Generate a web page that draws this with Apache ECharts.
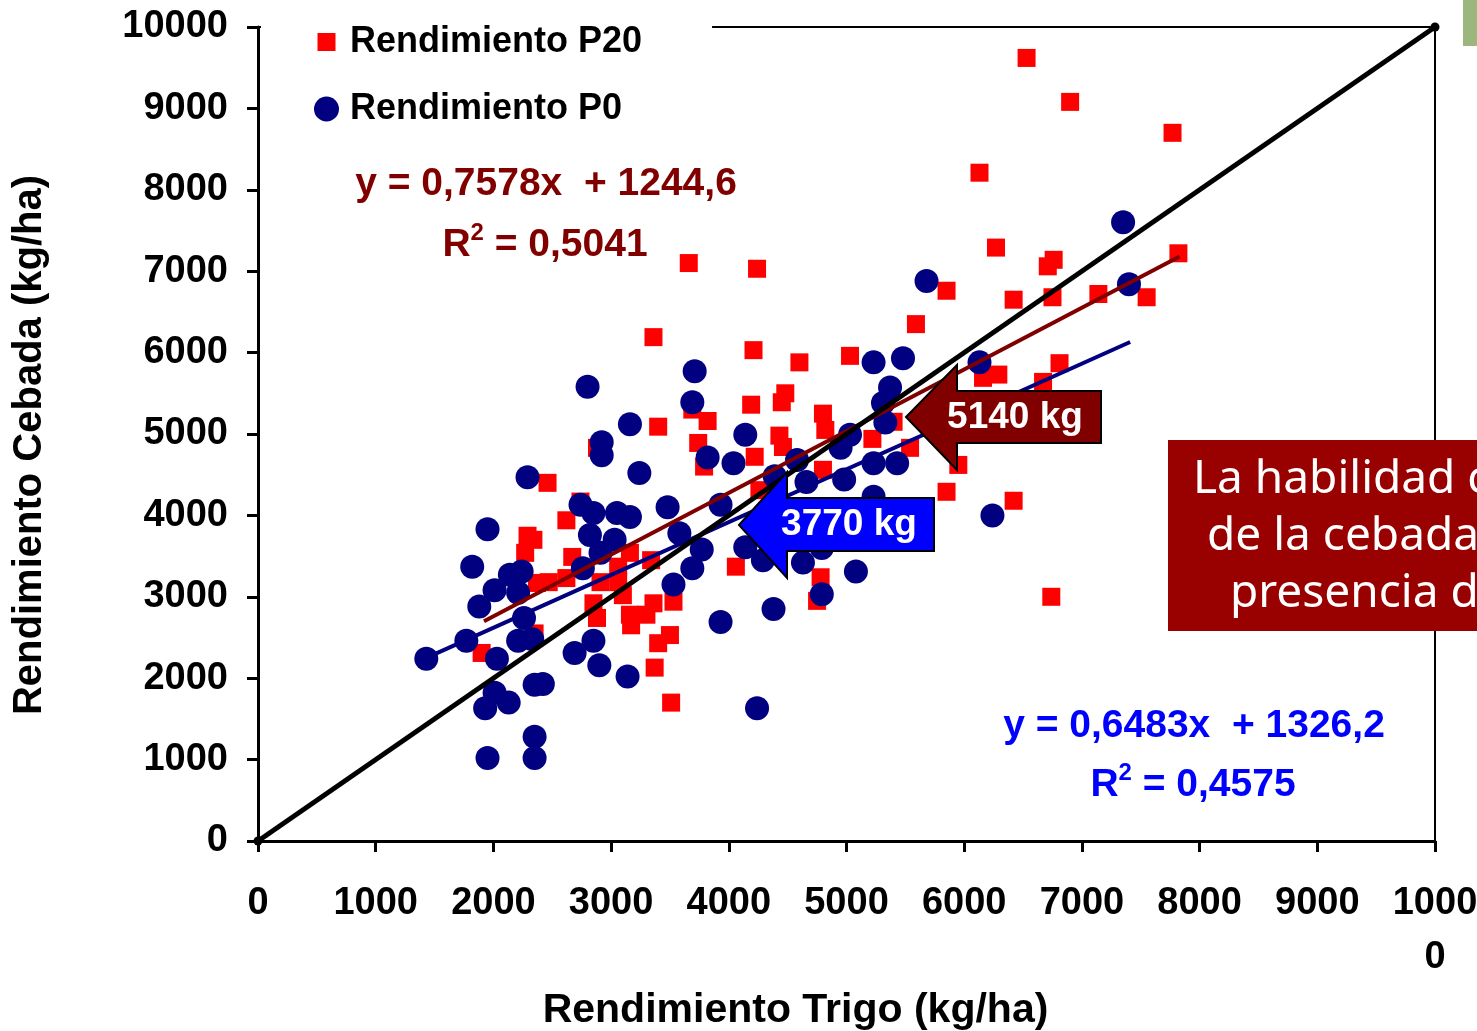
<!DOCTYPE html>
<html>
<head>
<meta charset="utf-8">
<script src="https://cdn.jsdelivr.net/npm/echarts@6/dist/echarts.min.js"></script>
<style>
html,body{margin:0;padding:0;background:#fff;}
#c{width:1477px;height:1031px;}
</style>
</head>
<body>
<div id="c"></div>
<script>
// ---- data ----
const p20X = [6530,6900,7770,6130,6270,3660,4240,6760,6710,7820,5850,6420,6750,7140,7550,5590,3360,4210,4600,5030,6810,6290,6160,6670,4480,4450,4190,3690,3820,3400,4800,4820,3740,4430,4460,5400,5220,5540,4220,5950,3790,4800,2460,5850,6420,4260,2740,2880,2620,2290,2340,2270,2670,3160,4060,2470,2620,2370,2910,3060,3060,3100,2850,2880,3360,3160,3530,3300,3170,3500,3400,3370,3510,1900,2350,4780,4750,6740,3340];
const p20Y = [9620,9080,8700,8210,7290,7100,7030,7140,7060,7220,6760,6650,6680,6720,6680,6350,6190,6030,5880,5960,5870,5730,5690,5640,5500,5390,5360,5300,5160,5090,5250,5050,4890,4980,4840,5150,4940,4830,4720,4620,4600,4560,4400,4290,4180,4310,4170,4830,3940,3750,3700,3540,3490,3540,3370,3180,3230,3170,3180,3370,3180,3020,2920,2740,2920,2780,2940,2780,2650,2530,2430,2130,1700,2310,2550,3240,2950,3000,3450];
const p0X = [7350,7400,5680,6130,5230,5480,3710,2800,3690,5370,5310,5330,3160,4140,2920,2920,5030,4950,3240,3820,4040,4580,5230,5430,2290,4390,4660,4980,5230,2740,2850,3050,3160,3480,3930,6240,1950,2820,3030,3580,3770,4140,4290,2910,3690,2760,1820,2140,2240,2010,2210,3530,1880,3930,4380,2260,1430,1770,2030,2210,2330,2690,2850,2900,3140,2010,1930,2130,2350,2420,2350,2350,1950,4240,4790,4630,5080,4790];
const p0Y = [7600,6840,6880,5880,5880,5930,5770,5580,5390,5570,5380,5140,5120,4990,4900,4740,4990,4830,4520,4710,4640,4680,4640,4640,4470,4480,4410,4440,4230,4130,4030,4030,3980,4100,4130,4000,3830,3760,3700,3780,3580,3610,3450,3540,3350,3350,3370,3270,3310,3080,3050,3150,2880,2690,2850,2740,2240,2460,2240,2460,2480,2310,2460,2160,2020,1820,1630,1700,1920,1930,1280,1020,1020,1630,3030,3420,3310,3600];
// trend lines (endpoints of the fitted lines shown on the chart)
const p20TrendX = [1920, 7830];
const p20TrendY = [2700, 7180];
const p0TrendX = [1430, 7410];
const p0TrendY = [2250, 6130];
const refLineX = [0, 10000];
const refLineY = [0, 10000];
const axisTicks = [0,1000,2000,3000,4000,5000,6000,7000,8000,9000,10000];
const seriesNames = ['Rendimiento P20', 'Rendimiento P0'];

const zip = (a, b) => a.map((v, i) => [v, b[i]]);
const FONT = "'Liberation Sans', Arial, sans-serif";

const chart = echarts.init(document.getElementById('c'), null, {renderer: 'canvas'});
chart.setOption({
  animation: false,
  backgroundColor: '#fff',
  grid: {left: 258, right: 42, top: 27, bottom: 190, show: true, borderColor: '#000', borderWidth: 2,
         backgroundColor: 'transparent', containLabel: false, outerBoundsMode: 'none'},
  legend: {
    orient: 'vertical', left: 261, top: 0,
    padding: [22, 70, 12, 53],
    backgroundColor: '#fff',
    itemWidth: 25, itemHeight: 25, itemGap: 27,
    textStyle: {fontFamily: FONT, fontWeight: 'bold', fontSize: 36, color: '#000', lineHeight: 40, padding: [0,0,0,6]},
    data: [
      {name: seriesNames[0], icon: 'path://M0 0M25 25M3.5 3.5H21.5V21.5H3.5Z'},
      {name: seriesNames[1], icon: 'circle'}
    ]
  },
  xAxis: {
    type: 'value', min: 0, max: 10000, interval: 1000,
    name: 'Rendimiento Trigo (kg/ha)', nameLocation: 'middle', nameGap: 149,
    nameTextStyle: {fontFamily: FONT, fontWeight: 'bold', fontSize: 41, color: '#000', padding: [0, 102, 0, 0]},
    axisLine: {show: true, lineStyle: {color: '#000', width: 3}},
    axisTick: {show: true, inside: false, length: 11, lineStyle: {color: '#000', width: 3}},
    splitLine: {show: false},
    axisLabel: {
      margin: 36, fontFamily: FONT, fontWeight: 'bold', fontSize: 38, color: '#000', lineHeight: 54,
      formatter: v => v === 10000 ? '1000\n0' : String(v)
    }
  },
  yAxis: {
    type: 'value', min: 0, max: 10000, interval: 1000,
    name: 'Rendimiento Cebada (kg/ha)', nameLocation: 'middle', nameGap: 208,
    nameTextStyle: {fontFamily: FONT, fontWeight: 'bold', fontSize: 40, color: '#000', padding: [0, 22, 0, 0]},
    axisLine: {show: true, lineStyle: {color: '#000', width: 3}},
    axisTick: {show: true, inside: false, length: 11, lineStyle: {color: '#000', width: 3}},
    splitLine: {show: false},
    axisLabel: {margin: 30, fontFamily: FONT, fontWeight: 'bold', fontSize: 38, color: '#000',
      formatter: v => String(v)}
  },
  series: [
    {
      name: seriesNames[0], type: 'scatter', symbol: 'rect', symbolSize: 18,
      itemStyle: {color: '#ff0000', opacity: 1}, data: zip(p20X, p20Y), z: 2
    },
    {
      name: seriesNames[1], type: 'scatter', symbol: 'circle', symbolSize: 24,
      itemStyle: {color: '#000080', opacity: 1}, data: zip(p0X, p0Y), z: 3
    },
    {
      name: 'tendencia P20', type: 'line', data: zip(p20TrendX, p20TrendY), showSymbol: false,
      lineStyle: {color: '#800000', width: 4}, z: 4, silent: true
    },
    {
      name: 'tendencia P0', type: 'line', data: zip(p0TrendX, p0TrendY), showSymbol: false,
      lineStyle: {color: '#000080', width: 4}, z: 4, silent: true
    },
    {
      name: '1:1', type: 'line', data: zip(refLineX, refLineY), symbol: 'circle', symbolSize: 9, showSymbol: true,
      itemStyle: {color: '#000'}, lineStyle: {color: '#000', width: 5}, z: 5, silent: true
    }
  ],
  graphic: [
    // 5140 kg arrow
    {type: 'polygon', z: 100, shape: {points: [[906,417],[957,365],[957,391],[1101,391],[1101,443],[957,443],[957,470]]},
      style: {fill: '#800000', stroke: '#000', lineWidth: 2}},
    {type: 'text', z: 101, x: 1015, y: 418, style: {text: '5140 kg', fill: '#fff', font: "bold 37px 'Liberation Sans', Arial", align: 'center', verticalAlign: 'middle'}},
    // 3770 kg arrow
    {type: 'polygon', z: 100, shape: {points: [[739,525],[787,472],[787,498],[934,498],[934,551],[787,551],[787,578]]},
      style: {fill: '#0000ff', stroke: '#000', lineWidth: 2}},
    {type: 'text', z: 101, x: 849, y: 525, style: {text: '3770 kg', fill: '#fff', font: "bold 37px 'Liberation Sans', Arial", align: 'center', verticalAlign: 'middle'}},
    // equations
    {type: 'text', z: 100, x: 546, y: 184, style: {text: 'y = 0,7578x  + 1244,6', fill: '#800000', font: "bold 39px 'Liberation Sans', Arial", align: 'center', verticalAlign: 'middle'}},
    {type: 'text', z: 100, x: 545, y: 243, style: {
      text: '{a|R}{s|2}{a| = 0,5041}', align: 'center', verticalAlign: 'middle',
      rich: {a: {fill: '#800000', font: "bold 39px 'Liberation Sans', Arial", verticalAlign: 'bottom', lineHeight: 44},
             s: {fill: '#800000', font: "bold 24px 'Liberation Sans', Arial", verticalAlign: 'top', lineHeight: 44}}}},
    {type: 'text', z: 100, x: 1194, y: 726, style: {text: 'y = 0,6483x  + 1326,2', fill: '#0000ff', font: "bold 39px 'Liberation Sans', Arial", align: 'center', verticalAlign: 'middle'}},
    {type: 'text', z: 100, x: 1193, y: 783, style: {
      text: '{a|R}{s|2}{a| = 0,4575}', align: 'center', verticalAlign: 'middle',
      rich: {a: {fill: '#0000ff', font: "bold 39px 'Liberation Sans', Arial", verticalAlign: 'bottom', lineHeight: 44},
             s: {fill: '#0000ff', font: "bold 24px 'Liberation Sans', Arial", verticalAlign: 'top', lineHeight: 44}}}},
    // text box on the right (clipped by the page edge)
    {type: 'rect', z: 100, shape: {x: 1168, y: 440, width: 400, height: 191}, style: {fill: '#990000'}},
    {type: 'text', z: 101, x: 1193, y: 480, style: {text: 'La habilidad c', fill: '#fff', font: "46px 'Noto Sans', sans-serif", align: 'left', verticalAlign: 'middle'}},
    {type: 'text', z: 101, x: 1207, y: 537, style: {text: 'de la cebada e', fill: '#fff', font: "46px 'Noto Sans', sans-serif", align: 'left', verticalAlign: 'middle'}},
    {type: 'text', z: 101, x: 1230, y: 594, style: {text: 'presencia de', fill: '#fff', font: "46px 'Noto Sans', sans-serif", align: 'left', verticalAlign: 'middle'}},
    // small picture edge at top right
    {type: 'rect', z: 100, shape: {x: 1463, y: 0, width: 14, height: 46}, style: {fill: '#9bb77e'}}
  ]
});
</script>
</body>
</html>
